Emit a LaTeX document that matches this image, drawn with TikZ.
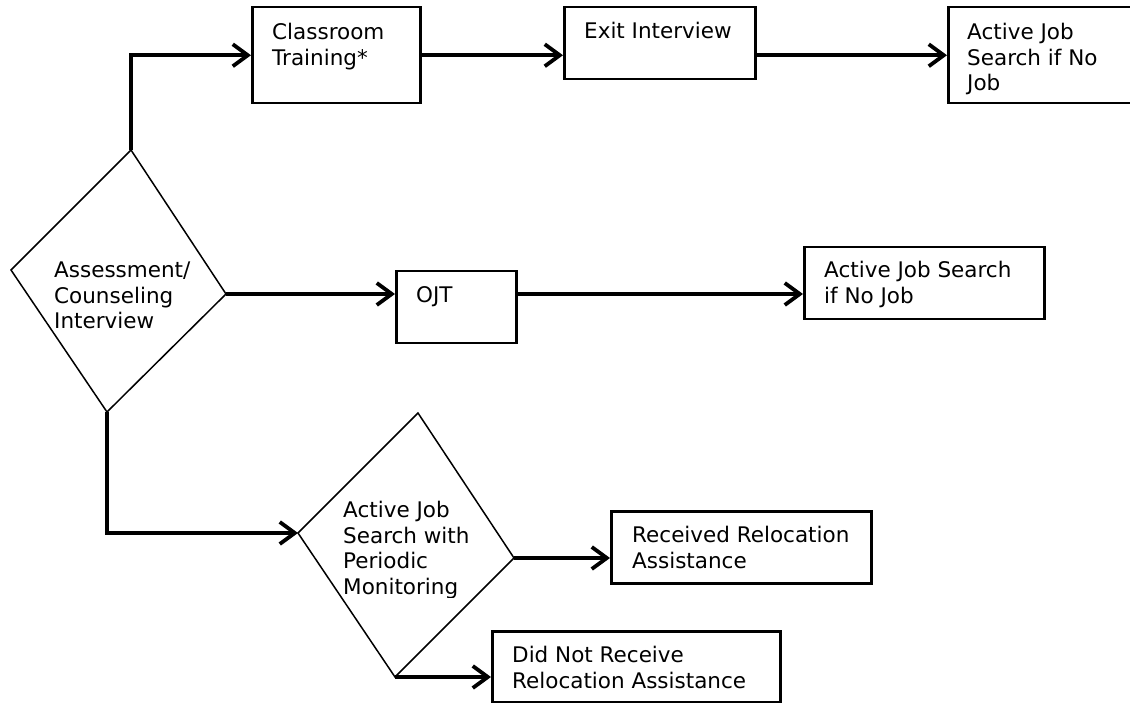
\documentclass[tikz,border=0pt]{standalone}
\usepackage{fontspec}
\setmainfont{DejaVu Sans}
\usetikzlibrary{arrows.meta}

\begin{document}
\begin{tikzpicture}[x=1pt, y=-1pt,
	box/.style={draw, line width=2.5pt, anchor=north west, inner sep=0pt},
	txt/.style={anchor=base west, align=left, inner sep=0pt, font=\fontsize{21.5}{25.7}\selectfont},
	arr/.style={line width=3.8pt, -{Straight Barb[length=15pt, width=22pt]}},
	decision/.style={line width=1.5pt}]

			\useasboundingbox (0,0) rectangle (1130,703);

			% Boxes
			\node[box, minimum width=168pt, minimum height=96pt] (cls) at (251,6) {};
			\node[box, minimum width=191pt, minimum height=72pt] (ext) at (563,6) {};
			\node[box, minimum width=195pt, minimum height=96pt] (jobA) at (947,6) {};
			\node[box, minimum width=120pt, minimum height=72pt] (ojt) at (395,270) {};
			\node[box, minimum width=240pt, minimum height=72pt] (jobB) at (803,246) {};
			\node[box, minimum width=260pt, minimum height=72pt] (rcv) at (610,510) {};
			\node[box, minimum width=288pt, minimum height=71pt] (dnr) at (491,630) {};

			% Assessment diamond
			\coordinate (asT) at (131,150);
			\coordinate (asL) at (11,270);
			\coordinate (asR) at (226,294);
			\coordinate (asB) at (107,412);
			\draw[decision] (asT) -- (asR) -- (asB) -- (asL) -- cycle;

			% Job search diamond
			\coordinate (pdT) at (418,413);
			\coordinate (pdL) at (298,533);
			\coordinate (pdR) at (514,558);
			\coordinate (pdB) at (395,677);
			\draw[decision] (pdT) -- (pdR) -- (pdB) -- (pdL) -- cycle;

			% Labels (placed by the baseline of their last line)
			\node[txt] (clsT) at (272,65.2) {Classroom\\Training*};
			\node[txt] (extT) at (584,38.5) {Exit Interview};
			\node[txt] (jobAT) at (967,90.9) {Active Job\\Search if No\\Job};
			\node[txt] (asTxt) at (54,328.9) {Assessment/\\Counseling\\Interview};
			\node[txt] (ojtT) at (416,302.5) {OJT};
			\node[txt] (jobBT) at (824,303.2) {Active Job Search\\if No Job};
			\node[txt] (rcvT) at (632,568.2) {Received Relocation\\Assistance};
			\node[txt] (dnrT) at (512,688.2) {Did Not Receive\\Relocation Assistance};
			\begin{scope}
				\clip (280,400) rectangle (520,597);
				\node[txt] (pdTxt) at (343,594.6) {Active Job\\Search with\\Periodic\\Monitoring};
			\end{scope}

			% Connectors
			\draw[arr] (asT) |- (cls.west);
			\draw[arr] (cls.east) -- (cls.east -| ext.west);
			\draw[arr] (ext.east |- jobA.west) -- (jobA.west);
			\draw[arr] (asR) -- (asR -| ojt.west);
			\draw[arr] (asR -| ojt.east) -- (asR -| jobB.west);
			\draw[arr] (asB) |- (pdL);
			\draw[arr] (pdR) -- (pdR -| rcv.west);
			\draw[arr] (pdB) -- (pdB -| dnr.west);
		\end{tikzpicture}
\end{document}
